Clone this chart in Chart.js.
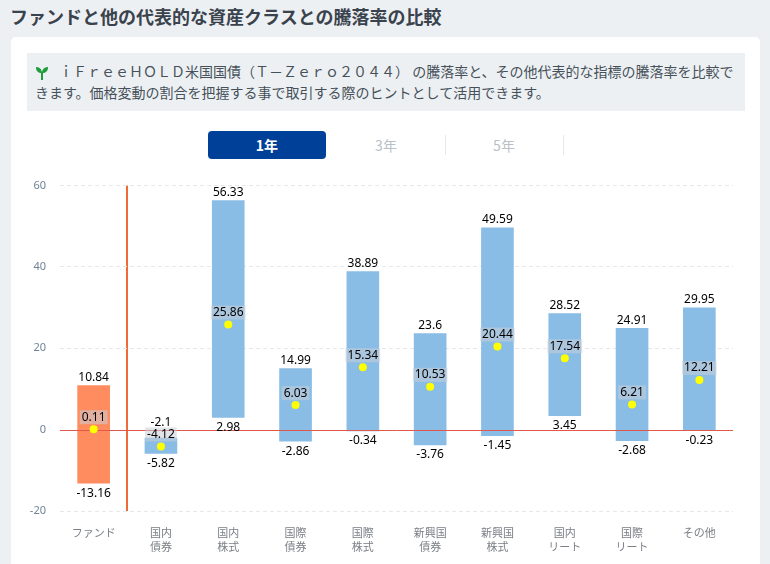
<!DOCTYPE html>
<html lang="ja">
<head>
<meta charset="utf-8">
<script src="https://cdn.jsdelivr.net/npm/chart.js@4"></script>
<style>
  html, body { margin: 0; padding: 0; width: 770px; height: 564px; overflow: hidden; background: #edf0f3; font-family: "Noto Sans CJK JP", sans-serif; color: #3c4650; }
  h1 { position: absolute; left: 10px; top: 2px; margin: 0; font-size: 18px; line-height: 28px; font-weight: 700; color: #3a434d; }
  .card { position: absolute; left: 11px; top: 37px; width: 749px; height: 540px; background: #fff; border-radius: 5px; }
  .note { position: absolute; left: 27px; top: 53px; width: 718px; height: 58px; background: #edf0f3; font-size: 14px; line-height: 21px; color: #465059; }
  .note p { margin: 0; padding: 8px 0 0 8px; width: 702px; }
  .note svg { vertical-align: -3px; margin-right: 10px; }
  .tab { position: absolute; top: 131px; width: 118px; height: 28px; line-height: 28px; text-align: center; font-size: 14px; color: #b9bfc6; }
  .tab.on { background: #004098; color: #fff; font-weight: 700; border-radius: 4px; }
  .tab.off { top: 135px; height: 20px; line-height: 20px; border-right: 1px solid #e6e9ec; }
  #wrap { position: absolute; left: 20px; top: 165px; width: 730px; height: 399px; }
</style>
</head>
<body>
<h1>ファンドと他の代表的な資産クラスとの騰落率の比較</h1>
<div class="card"></div>
<div class="note"><p><svg width="14" height="14" viewBox="0 0 14 14"><path d="M7 14V7C7 3 4 1 1 1c0 4 2 6 6 6 4 0 6-2 6-6-3 0-6 2-6 6z" fill="#1f9d3c"/><rect x="6" y="6" width="2" height="8" fill="#1f9d3c"/></svg>ｉＦｒｅｅＨＯＬＤ米国国債（Ｔ－Ｚｅｒｏ２０４４） の騰落率と、その他代表的な指標の騰落率を比較できます。価格変動の割合を把握する事で取引する際のヒントとして活用できます。</p></div>
<div class="tab on" style="left:208px">1年</div>
<div class="tab off" style="left:327px">3年</div>
<div class="tab off" style="left:445px">5年</div>
<div id="wrap"><canvas id="myChart"></canvas></div>
<script>
const categories = [['ファンド'], ['国内', '債券'], ['国内', '株式'], ['国際', '債券'], ['国際', '株式'], ['新興国', '債券'], ['新興国', '株式'], ['国内', 'リート'], ['国際', 'リート'], ['その他']];
const highs = [10.84, -2.1, 56.33, 14.99, 38.89, 23.6, 49.59, 28.52, 24.91, 29.95];
const lows = [-13.16, -5.82, 2.98, -2.86, -0.34, -3.76, -1.45, 3.45, -2.68, -0.23];
const averages = [0.11, -4.12, 25.86, 6.03, 15.34, 10.53, 20.44, 17.54, 6.21, 12.21];
const yTicks = [60, 40, 20, 0, -20];

const fundColor = '#ff8c5f';
const assetColor = '#8abde5';

// zero line goes over the bars but under the yellow points
const zeroLine = {
    id: 'zeroLine',
    afterDatasetDraw(chart, args) {
        if (args.index !== 1) return;
        const { ctx, chartArea, scales: { y } } = chart;
        const py = Math.round(y.getPixelForValue(0)) + 0.5;
        ctx.save();
        ctx.strokeStyle = '#e0584c';
        ctx.lineWidth = 1;
        ctx.beginPath();
        ctx.moveTo(chartArea.left, py);
        ctx.lineTo(chartArea.right, py);
        ctx.stroke();
        ctx.restore();
    }
};

// writes the high / low / average numbers over the bars
const valueLabels = {
    id: 'valueLabels',
    afterDatasetsDraw(chart) {
        const { ctx, scales: { x, y } } = chart;
        ctx.save();
        ctx.font = '12px "Noto Sans", sans-serif';
        ctx.textAlign = 'center';
        ctx.textBaseline = 'middle';
        categories.forEach((c, i) => {
            const cx = x.getPixelForValue(i);
            const midY = y.getPixelForValue(averages[i]) - 12;
            const midText = String(averages[i]);
            const w = ctx.measureText(midText).width + 4;
            ctx.fillStyle = 'rgba(200,205,215,0.55)';
            ctx.fillRect(cx - w / 2, midY - 7, w, 14);
            ctx.fillStyle = '#000';
            // high label moves up when it would sit on the average label
            let highY = y.getPixelForValue(highs[i]) - 8;
            if (Math.abs(highY - midY) < 12) highY = midY - 12;
            ctx.fillText(String(highs[i]), cx, highY);
            ctx.fillText(String(lows[i]), cx, y.getPixelForValue(lows[i]) + 10);
            ctx.fillText(midText, cx, midY);
        });
        ctx.restore();
    }
};

new Chart(document.getElementById('myChart'), {
    data: {
        labels: categories,
        datasets: [
            {
                type: 'line',
                data: averages,
                showLine: false,
                pointRadius: 4,
                pointHoverRadius: 4,
                pointBackgroundColor: '#ffff00',
                pointBorderWidth: 0,
                order: 1
            },
            {
                type: 'bar',
                data: lows.map((low, i) => [low, highs[i]]),
                backgroundColor: categories.map((c, i) => i === 0 ? fundColor : assetColor),
                barThickness: 32,
                order: 2
            }
        ]
    },
    plugins: [zeroLine, valueLabels],
    options: {
        responsive: true,
        maintainAspectRatio: false,
        animation: false,
        layout: { padding: { top: 10.5, right: 17, bottom: 0, left: 0 } },
        plugins: { legend: { display: false }, tooltip: { enabled: false } },
        scales: {
            x: {
                offset: true,
                grid: {
                    offset: true,
                    drawTicks: false,
                    lineWidth: 2,
                    // only the line that splits the fund from the rest
                    color: ctx => ctx.index === 1 ? '#ee6b36' : 'transparent'
                },
                border: { display: false },
                ticks: { color: '#7a7f85', font: { size: 11, family: '"Noto Sans CJK JP"', lineHeight: 1.27 }, padding: 15, maxRotation: 0, autoSkip: false },
                afterFit: scale => { scale.height = 53; }
            },
            y: {
                min: -20,
                max: 60,
                afterBuildTicks: scale => { scale.ticks = yTicks.map(value => ({ value })); },
                grid: {
                    drawTicks: false,
                    color: ctx => ctx.tick.value === 0 ? 'transparent' : '#e6e8ea'
                },
                border: { display: false, dash: [4, 3] },
                ticks: { color: '#6f8296', font: { size: 11, family: '"Noto Sans"' }, padding: 14 },
                afterFit: scale => { scale.width = 40; }
            }
        }
    }
});
</script>
</body>
</html>
